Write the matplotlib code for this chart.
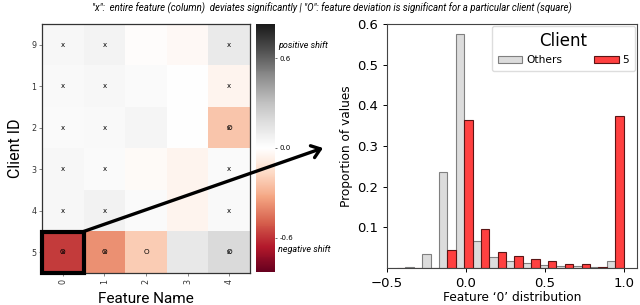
import numpy as np
import matplotlib
matplotlib.use("Agg")
import matplotlib.pyplot as plt
from matplotlib.patches import Rectangle, ConnectionPatch

# ---------------- data ----------------
clients = ["9", "1", "2", "3", "4", "5"]
features = ["0", "1", "2", "3", "4"]
shift = np.array([
    [0.04, 0.06, -0.01, -0.03, 0.11],
    [0.03, 0.04, 0.02, 0.00, -0.05],
    [0.02, 0.03, 0.05, 0.00, -0.23],
    [0.04, 0.02, -0.02, -0.05, 0.02],
    [0.04, 0.07, 0.02, -0.05, 0.03],
    [-0.58, -0.38, -0.21, 0.12, 0.19],
])
col_significant = [True, True, False, False, True]
cell_significant = [(2, 4), (5, 0), (5, 1), (5, 2), (5, 4)]
cbar_ticks = [-0.6, 0.0, 0.6]

bin_start, bin_end, n_bins = -0.49, 1.0, 14
others = [0.001, 0.002, 0.035, 0.236, 0.575, 0.066, 0.028, 0.018, 0.012, 0.008,
          0.005, 0.005, 0.003, 0.018]
client5 = [0.0, 0.0, 0.0, 0.045, 0.364, 0.097, 0.040, 0.030, 0.023, 0.018,
           0.011, 0.009, 0.002, 0.374]

W, H = 640, 305
fig = plt.figure(figsize=(W / 100, H / 100), dpi=100)

# ---------------- heatmap ----------------
ax = fig.add_axes([42 / W, 1 - 273 / H, 208 / W, 249 / H])
vlim = 0.83
im = ax.imshow(shift, cmap="RdGy", vmin=-vlim, vmax=vlim, aspect="auto")
ax.set_xticks(range(len(features)))
ax.set_xticklabels(features, rotation=90, fontsize=5.8, color="#333333")
ax.set_yticks(range(len(clients)))
ax.set_yticklabels(clients, fontsize=5.8, color="#333333")
ax.tick_params(length=2, width=0.5, color="#555555", pad=2)
ax.set_xlabel("Feature Name", fontsize=11, family="Roboto", labelpad=6)
ax.set_ylabel("Client ID", fontsize=11.5, family="Roboto", labelpad=6)
for s in ax.spines.values():
    s.set_color("#333333")
    s.set_linewidth(0.9)

for r in range(len(clients)):
    for c in range(len(features)):
        if col_significant[c]:
            ax.text(c, r, "x", ha="center", va="center", fontsize=5, color="black")
        if (r, c) in cell_significant:
            ax.text(c, r, "O", ha="center", va="center", fontsize=5.2, color="black")

ax.add_patch(Rectangle((-0.5, 4.5), 1, 1, fill=False, lw=3, ec="black", zorder=5,
                       clip_on=False))

# ---------------- colorbar ----------------
cax = fig.add_axes([256 / W, 1 - 272 / H, 19 / W, 248 / H])
cb = fig.colorbar(im, cax=cax, ticks=cbar_ticks)
cb.ax.set_yticklabels([f"{t:.1f}" for t in cbar_ticks], fontsize=5)
cb.ax.tick_params(length=1.5, width=0.4, pad=1.5)
cb.outline.set_visible(False)
fig.text(278 / W, 1 - 46 / H, "positive shift", fontsize=6.5, style="italic",
         family="Roboto", ha="left", va="center")
fig.text(278 / W, 1 - 250 / H, "negative shift", fontsize=6.5, style="italic",
         family="Roboto", ha="left", va="center")

# ---------------- title ----------------
fig.text(332 / W, 1 - 8 / H,
         "\"x\":  entire feature (column)  deviates significantly | \"O\": feature deviation is significant for a particular client (square)",
         fontsize=6.9, style="italic", family="Roboto", ha="center", va="center")

# ---------------- histogram ----------------
hx = fig.add_axes([387 / W, 1 - 268 / H, 250 / W, 244 / H])
bw = (bin_end - bin_start) / n_bins
lefts = bin_start + bw * np.arange(n_bins)
hx.bar(lefts, others, width=bw / 2, align="edge", color="#dcdcdc",
       edgecolor="#808080", linewidth=0.8, label="Others")
hx.bar(lefts + bw / 2, client5, width=bw / 2, align="edge", color="#ff4040",
       edgecolor="#5a1515", linewidth=0.8, label="5")
hx.set_xlim(-0.5, 1.085)
hx.set_ylim(0, 0.6)
hx.set_xticks([-0.5, 0.0, 0.5, 1.0])
hx.set_yticks([0.1, 0.2, 0.3, 0.4, 0.5, 0.6])
hx.tick_params(labelsize=9.5, length=3, width=0.7)
hx.set_xlabel("Feature \u20180\u2019 distribution", fontsize=8.7, labelpad=1)
hx.set_ylabel("Proportion of values", fontsize=8.7, labelpad=3)
for s in hx.spines.values():
    s.set_color("#444444")
    s.set_linewidth(0.8)
leg = hx.legend(title="Client", ncol=2, fontsize=7.7, title_fontsize=12,
                loc="upper right", handlelength=2.3, handleheight=0.6,
                columnspacing=3.0, handletextpad=0.35, borderpad=0.55,
                borderaxespad=0.2, framealpha=1, edgecolor="#dddddd")

# ---------------- arrow ----------------
con = ConnectionPatch(xyA=(0.5, 4.5), coordsA=ax.transData,
                      xyB=(323 / W, 1 - 148 / H), coordsB=fig.transFigure,
                      arrowstyle="->,head_length=0.6,head_width=0.45", lw=2.4,
                      color="black", zorder=10)
fig.add_artist(con)

fig.savefig("out.png", dpi=100)
